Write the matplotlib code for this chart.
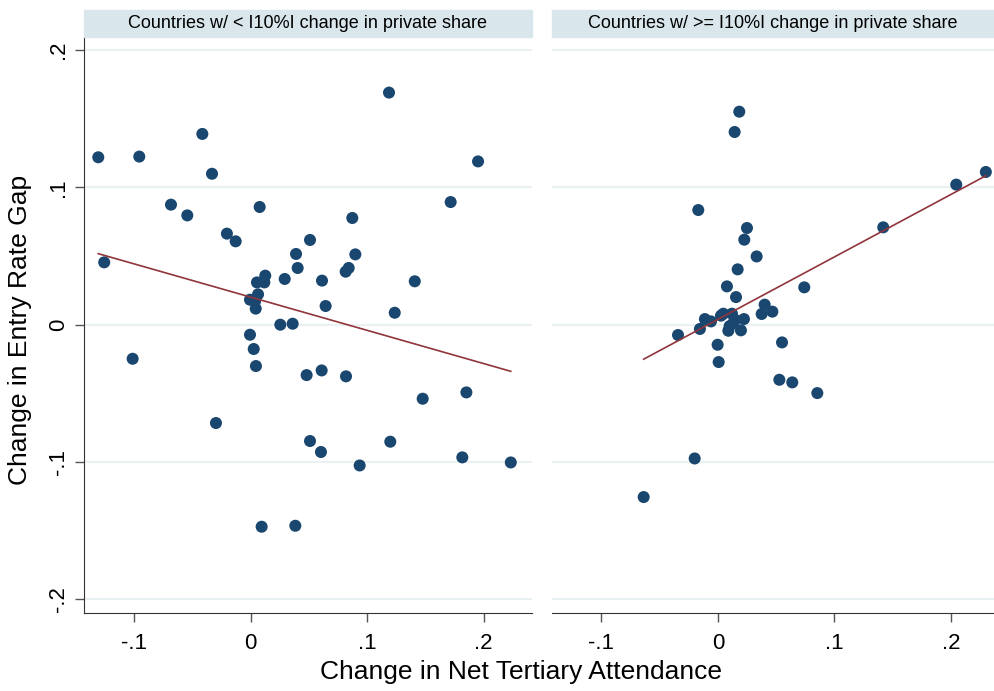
import matplotlib
matplotlib.use("Agg")
import matplotlib.pyplot as plt
import numpy as np
from matplotlib.patches import Rectangle

# left panel: countries with < |10%| change in private share
x_small = [-0.1307, -0.0955, -0.0414, -0.0331, 0.1952, -0.0683, -0.0543, 0.0078,
           0.1717, 0.0873, -0.0203, -0.0128, 0.0510, 0.0390, 0.0899, 0.0404,
           0.0816, 0.0842, -0.1256, 0.0126, 0.0055, 0.0118, 0.0293, 0.0613,
           0.1409, 0.0064, -0.0005, 0.0038, 0.0044, 0.0644, 0.1237, 0.0255,
           0.0361, -0.0005, 0.0027, 0.0046, -0.1012, 0.0481, 0.0610, 0.0819,
           0.1477, 0.1852, -0.0297, 0.0510, 0.0604, 0.1199, 0.0936, 0.1817,
           0.2233, 0.0095, 0.0384, 0.1188]
y_small = [0.1219, 0.1224, 0.1389, 0.1099, 0.1189, 0.0874, 0.0796, 0.0857,
           0.0893, 0.0777, 0.0663, 0.0607, 0.0617, 0.0515, 0.0512, 0.0413,
           0.0386, 0.0413, 0.0454, 0.0357, 0.0308, 0.0308, 0.0333, 0.0321,
           0.0316, 0.0221, 0.0182, 0.0170, 0.0117, 0.0136, 0.0087, 0.0000,
           0.0007, -0.0073, -0.0177, -0.0301, -0.0248, -0.0367, -0.0333, -0.0376,
           -0.0539, -0.0493, -0.0716, -0.0847, -0.0927, -0.0852, -0.1025, -0.0966,
           -0.1003, -0.1471, -0.1464, 0.1690]

# right panel: countries with >= |10%| change
x_big = [-0.0169, 0.0249, 0.0226, 0.0332, 0.0169, 0.0077, 0.0741, 0.0155,
         0.0401, 0.0375, 0.0467, -0.0112, -0.0060, 0.0026, 0.0046, 0.0120,
         0.0132, 0.0223, -0.0155, 0.0089, 0.0197, -0.0343, -0.0003, 0.0006,
         0.0550, 0.0527, 0.0638, 0.0853, 0.0183, 0.0143, 0.2300, 0.2046,
         0.1419, -0.0200, -0.0638, 0.0146, 0.0100]
y_big = [0.0835, 0.0704, 0.0619, 0.0497, 0.0403, 0.0279, 0.0272, 0.0201,
         0.0146, 0.0078, 0.0095, 0.0041, 0.0024, 0.0066, 0.0080, 0.0080,
         0.0012, 0.0041, -0.0031, -0.0044, -0.0041, -0.0075, -0.0146, -0.0272,
         -0.0129, -0.0401, -0.0420, -0.0498, 0.1551, 0.1403, 0.1112, 0.1020,
         0.0709, -0.0974, -0.1255, 0.0036, -0.0010]

# linear fit lines (slope, intercept)
fit_small = (-0.242, 0.0201)
fit_big = (0.4546, 0.0039)

titles = ["Countries w/ < I10%I change in private share",
          "Countries w/ >= I10%I change in private share"]
xticks = [-0.1, 0, 0.1, 0.2]
xticklabels = ["-.1", "0", ".1", ".2"]
yticks = [-0.2, -0.1, 0, 0.1, 0.2]
yticklabels = ["-.2", "-.1", "0", ".1", ".2"]

navy = "#1a476f"
maroon = "#90353b"
grid_c = "#eaf1f3"
strip_c = "#d9e6eb"

plt.rcParams['font.family'] = ['Liberation Sans', 'DejaVu Sans']

W, H = 994, 691
fig = plt.figure(figsize=(W / 100, H / 100), dpi=100)

def fx(px):
    return px / W

def fy(py):
    return 1 - py / H

top, bot = 36.7, 612.7
ax1 = fig.add_axes([fx(83.7), fy(bot), fx(532 - 83.7), (bot - top) / H])
ax2 = fig.add_axes([fx(552), fy(bot), fx(994 - 552), (bot - top) / H])

panels = [(ax1, x_small, y_small, fit_small, (-0.1432, 0.2415)),
          (ax2, x_big, y_big, fit_big, (-0.1425, 0.237))]

for i, (ax, xs, ys, fit, xl) in enumerate(panels):
    xs = np.array(xs)
    ys = np.array(ys)
    for yv in yticks:
        ax.axhline(yv, color=grid_c, lw=1.5, zorder=0)
    ax.scatter(xs, ys, s=75, color=navy, edgecolors='none', zorder=3)
    b, a = fit
    xx = np.array([xs.min(), xs.max()])
    ax.plot(xx, a + b * xx, color=maroon, lw=1.2, zorder=4)
    ax.set_xlim(*xl)
    ax.set_ylim(-0.2097, 0.2097)
    ax.set_xticks(xticks)
    ax.set_xticklabels(xticklabels, fontsize=16)
    ax.set_yticks(yticks)
    for s in ['top', 'right']:
        ax.spines[s].set_visible(False)
    ax.spines['bottom'].set_color('#333333')
    ax.spines['left'].set_color('#333333')
    ax.tick_params(axis='x', length=6.5, width=1.0, color='#555555', pad=8)
    ax.tick_params(axis='y', length=6.5, width=1.0, color='#555555', pad=4)
    if i == 0:
        ax.set_yticklabels(yticklabels, fontsize=16, rotation=90, va='center')
    else:
        ax.spines['left'].set_visible(False)
        ax.tick_params(axis='y', left=False, labelleft=False)

# header strips
strips = [(83.7, 532), (552, 994)]
for (l, r), t in zip(strips, titles):
    fig.patches.append(Rectangle((fx(l), fy(36.7)), fx(r - l), (36.7 - 10) / H,
                                 transform=fig.transFigure, color=strip_c, zorder=0))
    fig.text(fx((l + r) / 2), fy(23.3), t, ha='center', va='center', fontsize=13)

fig.text(fx(521), fy(672), "Change in Net Tertiary Attendance", ha='center', va='center', fontsize=19)
fig.text(fx(20), fy(330), "Change in Entry Rate Gap", ha='center', va='center',
         rotation=90, fontsize=19)

fig.savefig("out.png", dpi=100)
